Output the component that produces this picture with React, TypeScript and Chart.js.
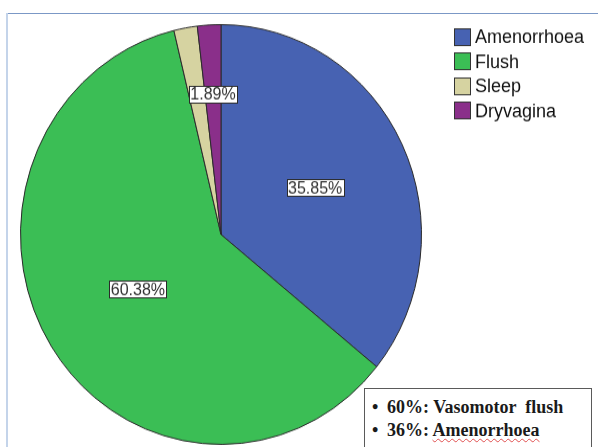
import React, { useEffect, useRef } from "react";
import { Chart, registerables } from "chart.js";

Chart.register(...registerables);

// Symptom categories and respondent counts
const categories = ["Amenorrhoea", "Flush", "Sleep", "Dryvagina"];
const counts = [19, 32, 1, 1];
const sliceColors = ["#4762b2", "#3bbe55", "#d6d3a1", "#8a2f8a"];
// radial position of each percentage tag (fraction of the radius); null = no tag
const tagRadius: (number | null)[] = [0.52, 0.49, null, 0.67];

// summary note lines
const notePercents = ["60%", "36%"];
const noteTexts = ["Vasomotor  flush", "Amenorrhoea"];

const CANVAS_W = 598;
const CANVAS_H = 427;
const STRETCH = 447 / 427;

const percentTags = {
  id: "percentTags",
  afterDatasetsDraw(chart: any) {
    const ctx = chart.ctx;
    const meta = chart.getDatasetMeta(0);
    const values = chart.data.datasets[0].data as number[];
    const total = values.reduce((a, b) => a + b, 0);
    ctx.save();
    ctx.font = "16px 'Liberation Sans', Arial, sans-serif";
    ctx.textAlign = "center";
    ctx.textBaseline = "middle";
    meta.data.forEach((el: any, i: number) => {
      const f = tagRadius[i];
      if (f == null) return;
      const p = el.getProps(["x", "y", "startAngle", "endAngle", "outerRadius"], true);
      const mid = (p.startAngle + p.endAngle) / 2;
      const r = p.outerRadius * f;
      const x = p.x + Math.cos(mid) * r;
      const y = p.y + Math.sin(mid) * r;
      const text = ((values[i] / total) * 100).toFixed(2) + "%";
      const w = Math.round(ctx.measureText(text).width + 3);
      const h = 16;
      const bx = Math.round(x - w / 2) + 0.5;
      const by = Math.round(y - h / 2) + 0.5;
      ctx.fillStyle = "#ffffff";
      ctx.fillRect(bx, by, w, h);
      ctx.strokeStyle = "#2b2b2b";
      ctx.lineWidth = 1;
      ctx.strokeRect(bx, by, w, h);
      ctx.fillStyle = "#333333";
      ctx.fillText(text, x, y + 1);
    });
    ctx.restore();
  },
};

const sideLegend = {
  id: "sideLegend",
  afterDraw(chart: any) {
    const ctx = chart.ctx;
    const labels = chart.data.labels as string[];
    const colors = chart.data.datasets[0].backgroundColor as string[];
    const x0 = 454;
    const y0 = 34.5;
    const step = 23.6;
    ctx.save();
    ctx.font = "18px 'Liberation Sans', Arial, sans-serif";
    ctx.textBaseline = "middle";
    ctx.textAlign = "left";
    labels.forEach((lab, i) => {
      const cy = y0 + i * step;
      ctx.fillStyle = colors[i];
      ctx.fillRect(x0 + 0.5, Math.round(cy - 8) + 0.5, 16, 16);
      ctx.strokeStyle = "#333333";
      ctx.lineWidth = 1;
      ctx.strokeRect(x0 + 0.5, Math.round(cy - 8) + 0.5, 16, 16);
      ctx.fillStyle = "#111111";
      ctx.fillText(lab, x0 + 21, cy + 1.5);
    });
    ctx.restore();
  },
};

export default function App() {
  const canvasRef = useRef<HTMLCanvasElement | null>(null);

  useEffect(() => {
    document.body.style.margin = "0";
    const canvas = canvasRef.current;
    if (!canvas) return;
    const chart = new Chart(canvas, {
      type: "pie",
      data: {
        labels: categories,
        datasets: [
          {
            data: counts,
            backgroundColor: sliceColors,
            borderColor: "#2a2a2a",
            borderWidth: 1,
          },
        ],
      },
      options: {
        responsive: false,
        animation: false,
        devicePixelRatio: 1,
        layout: { padding: { left: 20, right: 176, top: 23, bottom: 2 } },
        plugins: {
          legend: { display: false },
          tooltip: { enabled: false },
        },
      },
      plugins: [percentTags, sideLegend],
    });
    return () => chart.destroy();
  }, []);

  return (
    <div
      style={{
        position: "fixed",
        left: 0,
        top: 0,
        width: 598,
        height: 447,
        overflow: "hidden",
        background: "#ffffff",
      }}
    >
      <div
        style={{
          position: "absolute",
          left: 0,
          top: 0,
          transform: `scaleY(${STRETCH})`,
          transformOrigin: "0 0",
        }}
      >
        <canvas ref={canvasRef} width={CANVAS_W} height={CANVAS_H} />
      </div>
      {/* frame lines */}
      <div style={{ position: "absolute", left: 6, top: 13, width: 592, height: 1, background: "#7b98c6" }} />
      <div style={{ position: "absolute", left: 6, top: 13, width: 2, height: 434, background: "#c4d4ea" }} />
      {/* summary note */}
      <div
        style={{
          position: "absolute",
          left: 364,
          top: 388,
          width: 228,
          height: 80,
          background: "#ffffff",
          border: "1px solid #5a5a5a",
          boxSizing: "border-box",
          paddingTop: 7,
          paddingLeft: 7,
          fontFamily: "'Liberation Serif', 'Times New Roman', serif",
          fontWeight: "bold",
          fontSize: 18,
          lineHeight: "23px",
          color: "#1a1a1a",
          whiteSpace: "pre",
        }}
      >
        {notePercents.map((p, i) => (
          <div key={i}>
            <span style={{ display: "inline-block", width: 15 }}>•</span>
            {p + ": "}
            <span
              style={
                i === 1
                  ? {
                      textDecorationLine: "underline",
                      textDecorationStyle: "wavy",
                      textDecorationColor: "#e05050",
                      textDecorationThickness: 1,
                      textUnderlineOffset: 2,
                    }
                  : {}
              }
            >
              {noteTexts[i]}
            </span>
          </div>
        ))}
      </div>
    </div>
  );
}
